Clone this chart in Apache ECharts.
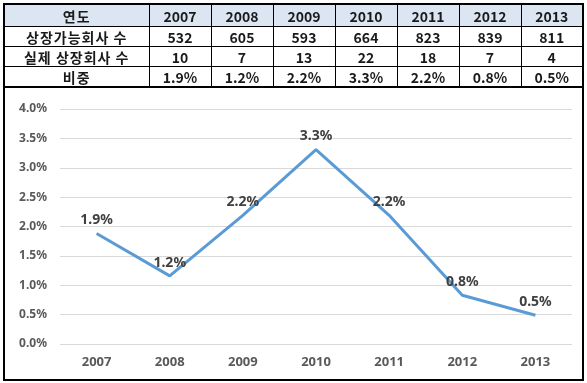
<!DOCTYPE html>
<html>
<head>
<meta charset="utf-8">
<script src="https://cdn.jsdelivr.net/npm/echarts@6/dist/echarts.min.js"></script>
<style>
  html, body { margin: 0; padding: 0; background: #fff; width: 587px; height: 383px; overflow: hidden; }
  #chart { position: absolute; left: 0; top: 0; width: 587px; height: 383px; }
  #box { position: absolute; left: 3px; top: 86px; width: 577px; height: 291px; border: 2px solid #000; pointer-events: none; }
  #tbl { position: absolute; left: 3px; top: 3px; width: 581px; border-collapse: collapse; border: 2px solid #000;
         font-family: "Noto Sans CJK KR", "Noto Sans", sans-serif; font-size: 14px; font-weight: bold; color: #1a1a1a; table-layout: fixed; }
  #tbl td { border: 1px solid #000; text-align: center; padding: 0; line-height: 18px; }
  #tbl td.lab { letter-spacing: 1px; }
  #tbl tr.h td { background: #dce6f2; height: 21px; }
  #tbl tr.r td { height: 19px; }
</style>
</head>
<body>
<div id="chart"></div>
<div id="box"></div>
<table id="tbl"></table>
<script>
const years = ['2007', '2008', '2009', '2010', '2011', '2012', '2013'];
const rowLabels = ['연도', '상장가능회사 수', '실제 상장회사 수', '비중'];
const listable = [532, 605, 593, 664, 823, 839, 811];
const listed = [10, 7, 13, 22, 18, 7, 4];
const ratio = [1.88, 1.16, 2.19, 3.31, 2.19, 0.83, 0.49];
const yTicks = ['0.0%', '0.5%', '1.0%', '1.5%', '2.0%', '2.5%', '3.0%', '3.5%', '4.0%'];

// table built from arrays
const tbl = document.getElementById('tbl');
const colg = document.createElement('colgroup');
let c0 = document.createElement('col'); c0.style.width = '145px'; colg.appendChild(c0);
years.forEach(() => { const c = document.createElement('col'); colg.appendChild(c); });
tbl.appendChild(colg);
function addRow(label, vals, cls) {
  const tr = document.createElement('tr'); tr.className = cls;
  const td0 = document.createElement('td'); td0.className = 'lab'; td0.textContent = label; tr.appendChild(td0);
  vals.forEach(v => { const td = document.createElement('td'); td.textContent = v; tr.appendChild(td); });
  tbl.appendChild(tr);
}
addRow(rowLabels[0], years, 'h');
addRow(rowLabels[1], listable, 'r');
addRow(rowLabels[2], listed, 'r');
addRow(rowLabels[3], ratio.map(v => v.toFixed(1) + '%'), 'r');

const chart = echarts.init(document.getElementById('chart'), null, { renderer: 'canvas' });
chart.setOption({
  backgroundColor: '#fff',
  animation: false,
  grid: { left: 60, right: 15, top: 109, bottom: 39 },
  xAxis: {
    type: 'category',
    data: years,
    boundaryGap: true,
    axisLine: { show: false },
    axisTick: { show: false },
    axisLabel: { color: '#595959', fontSize: 13, fontWeight: 'bold', fontFamily: 'Noto Sans, sans-serif', margin: 12 }
  },
  yAxis: {
    type: 'value',
    min: 0, max: 4, interval: 0.5,
    axisLine: { show: false },
    axisTick: { show: false },
    splitLine: { lineStyle: { color: '#d9d9d9', width: 1 } },
    axisLabel: {
      color: '#595959', fontSize: 12, fontWeight: 'bold', fontFamily: 'Noto Sans, sans-serif', margin: 13,
      formatter: (v) => yTicks[Math.round(v / 0.5)]
    }
  },
  series: [{
    type: 'line',
    data: ratio,
    symbol: 'circle',
    symbolSize: 0.1,
    lineStyle: { color: '#5b9bd5', width: 3 },
    itemStyle: { color: '#5b9bd5' },
    label: {
      show: true, position: 'top', distance: 6,
      color: '#404040', fontSize: 14, fontWeight: 'bold', fontFamily: 'Noto Sans, sans-serif',
      formatter: (p) => p.value.toFixed(1) + '%'
    }
  }]
});
</script>
</body>
</html>
